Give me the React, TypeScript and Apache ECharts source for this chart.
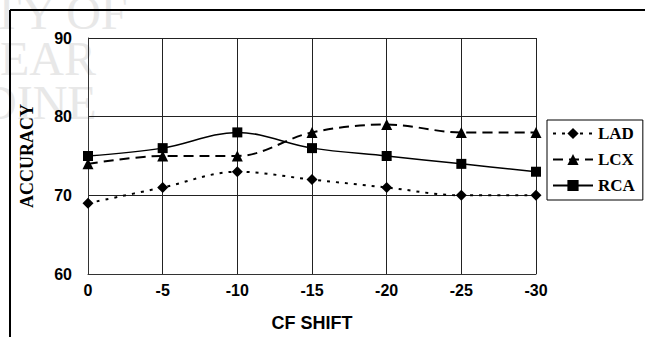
import React, { useEffect, useRef } from "react";
import * as echarts from "echarts";

const categories = ["0", "-5", "-10", "-15", "-20", "-25", "-30"];
const ladValues = [69, 71, 73, 72, 71, 70, 70];
const lcxValues = [74, 75, 75, 78, 79, 78, 78];
const rcaValues = [75, 76, 78, 76, 75, 74, 73];
const yTicks = { min: 60, max: 90, interval: 10 };

export default function App() {
  const ref = useRef<HTMLDivElement>(null);
  useEffect(() => {
    if (!ref.current) return;
    const chart = echarts.init(ref.current, undefined, { renderer: "svg" });
    const sans = "Liberation Sans";
    const serif = "Liberation Serif";
    const wm = "#e8e8e8";
    chart.setOption({
      animation: false,
      backgroundColor: "#ffffff",
      graphic: [
        { type: "text", z: -10, left: -8, top: -12, style: { text: "TY OF", fill: wm, font: "48px 'Liberation Serif'" } },
        { type: "text", z: -10, left: 0, top: 34, style: { text: "EAR", fill: wm, font: "48px 'Liberation Serif'" } },
        { type: "text", z: -10, left: -18, top: 78, style: { text: "DINE", fill: wm, font: "48px 'Liberation Serif'" } },
        { type: "line", z: 10, shape: { x1: 10, y1: 10, x2: 645, y2: 10 }, style: { stroke: "#000", lineWidth: 2 } },
        { type: "line", z: 10, shape: { x1: 10, y1: 10, x2: 10, y2: 337 }, style: { stroke: "#000", lineWidth: 2 } },
      ],
      grid: { left: 88, right: 109, top: 38, bottom: 54, containLabel: false },
      legend: {
        orient: "vertical",
        left: 547,
        top: 120,
        padding: [5, 8, 6, 5],
        itemGap: 9,
        itemWidth: 40,
        itemHeight: 14,
        borderColor: "#000",
        borderWidth: 1,
        backgroundColor: "#fff",
        data: ["LAD", "LCX", "RCA"],
        textStyle: { fontFamily: serif, fontWeight: "bold", fontSize: 17, color: "#000", lineHeight: 16 },
      },
      xAxis: {
        type: "category",
        data: categories,
        boundaryGap: false,
        name: "CF SHIFT",
        nameLocation: "middle",
        nameGap: 40,
        nameTextStyle: { fontFamily: sans, fontWeight: "bold", fontSize: 18, color: "#000" },
        axisLine: { lineStyle: { color: "#333", width: 1 } },
        axisTick: { show: false },
        axisLabel: { fontFamily: sans, fontWeight: "bold", fontSize: 16, color: "#000", margin: 8 },
        splitLine: { show: true, lineStyle: { color: "#222", width: 1 } },
      },
      yAxis: {
        type: "value",
        min: yTicks.min,
        max: yTicks.max,
        interval: yTicks.interval,
        name: "ACCURACY",
        nameLocation: "middle",
        nameGap: 52,
        nameRotate: 90,
        nameTextStyle: { fontFamily: serif, fontWeight: "bold", fontSize: 18, color: "#000" },
        axisLine: { show: true, lineStyle: { color: "#333", width: 1 } },
        axisTick: { show: false },
        axisLabel: { fontFamily: sans, fontWeight: "bold", fontSize: 16, color: "#000", margin: 16 },
        splitLine: { show: true, lineStyle: { color: "#222", width: 1 } },
      },
      series: [
        {
          name: "LAD",
          type: "line",
          data: ladValues,
          smooth: 0.35,
          symbol: "diamond",
          symbolSize: 11,
          itemStyle: { color: "#000" },
          lineStyle: { color: "#000", width: 2, type: [3, 6] },
        },
        {
          name: "LCX",
          type: "line",
          data: lcxValues,
          smooth: 0.35,
          symbol: "triangle",
          symbolSize: 11,
          itemStyle: { color: "#000" },
          lineStyle: { color: "#000", width: 2, type: [10, 6] },
        },
        {
          name: "RCA",
          type: "line",
          data: rcaValues,
          smooth: 0.35,
          symbol: "rect",
          symbolSize: 10,
          itemStyle: { color: "#000" },
          lineStyle: { color: "#000", width: 1.5, type: "solid" },
        },
      ],
    });
    return () => chart.dispose();
  }, []);
  return (
    <div
      ref={ref}
      style={{ position: "fixed", left: 0, top: 0, width: 645, height: 337 }}
    />
  );
}
